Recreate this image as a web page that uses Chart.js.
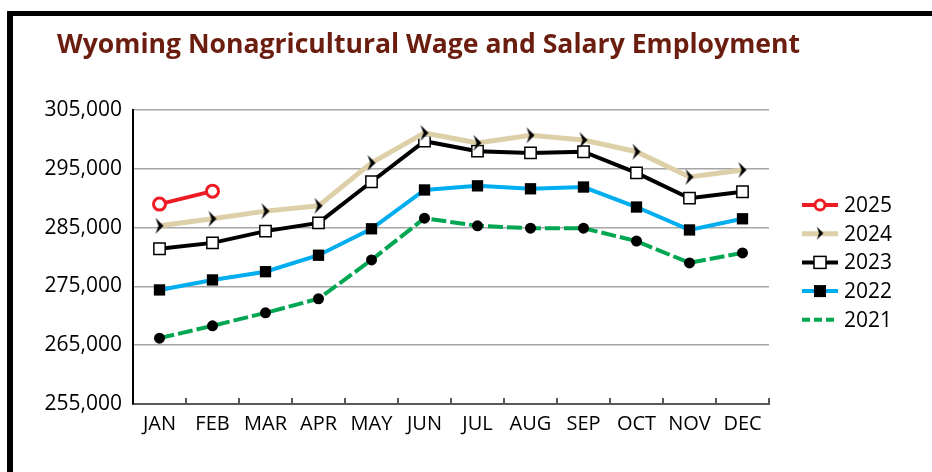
<!DOCTYPE html>
<html lang="en">
<head>
    <meta charset="UTF-8">
    <title>Wyoming Nonagricultural Wage and Salary Employment</title>
    <script src="https://cdn.jsdelivr.net/npm/chart.js"></script>
    <style>
        html, body { margin: 0; padding: 0; background: #ffffff; }
        .wrap { position: relative; width: 932px; height: 472px; }
    </style>
</head>
<body>
    <div class="wrap">
        <canvas id="employmentChart" width="932" height="472"></canvas>
    </div>
    <script>
        // data
        const months = ['JAN', 'FEB', 'MAR', 'APR', 'MAY', 'JUN', 'JUL', 'AUG', 'SEP', 'OCT', 'NOV', 'DEC'];
        const yTicks = [255000, 265000, 275000, 285000, 295000, 305000];
        const emp2025 = [289000, 291200];
        const emp2024 = [285300, 286500, 287800, 288700, 296000, 301100, 299400, 300700, 299900, 297900, 293600, 294800];
        const emp2023 = [281400, 282400, 284400, 285800, 292800, 299700, 298000, 297700, 297900, 294300, 290000, 291100];
        const emp2022 = [274400, 276100, 277500, 280300, 284800, 291400, 292100, 291600, 291900, 288500, 284600, 286500];
        const emp2021 = [266200, 268300, 270500, 272900, 279500, 286600, 285300, 284900, 284900, 282700, 279000, 280700];

        const FONT = '"Open Sans", Lato, sans-serif';
        const TITLE = 'Wyoming Nonagricultural Wage and Salary Employment';

        // chevron marker for 2024
        function makeChevron() {
            const c = document.createElement('canvas');
            c.width = 12; c.height = 18;
            const g = c.getContext('2d');
            g.fillStyle = '#000';
            g.beginPath();
            g.moveTo(2, 1);
            g.lineTo(10, 9);
            g.lineTo(2, 17);
            g.lineTo(5, 9);
            g.closePath();
            g.fill();
            return c;
        }
        const chevron = makeChevron();

        // white page + black frame + title
        const framePlugin = {
            id: 'frame',
            beforeDraw(chart) {
                const ctx = chart.ctx;
                ctx.save();
                ctx.fillStyle = '#ffffff';
                ctx.fillRect(0, 0, chart.width, chart.height);
                ctx.fillStyle = '#000000';
                ctx.fillRect(7, 11, 6, chart.height - 11);
                ctx.fillRect(7, 11, chart.width - 7, 5);
                ctx.fillStyle = '#6b1e10';
                ctx.font = 'bold 26px ' + FONT;
                ctx.textBaseline = 'alphabetic';
                // fit the title to the width it has in the original
                const w = ctx.measureText(TITLE).width;
                ctx.translate(57, 53);
                ctx.scale(743 / w, 1);
                ctx.fillText(TITLE, 0, 0);
                ctx.restore();
            },
            afterDatasetsDraw(chart) {
                // small upward tick marks on the category axis
                const ctx = chart.ctx;
                const x = chart.scales.x;
                const bottom = chart.chartArea.bottom;
                ctx.save();
                ctx.strokeStyle = '#595959';
                ctx.lineWidth = 2;
                for (let i = 0; i < months.length; i++) {
                    const px = Math.round((x.getPixelForValue(i) + x.getPixelForValue(i + 1)) / 2);
                    ctx.beginPath();
                    ctx.moveTo(px, bottom);
                    ctx.lineTo(px, bottom - 6);
                    ctx.stroke();
                }
                ctx.restore();
            }
        };

        // legend drawn on the right
        const legendPlugin = {
            id: 'sideLegend',
            afterDraw(chart) {
                const ctx = chart.ctx;
                const x0 = 802, x1 = 838, tx = 844;
                let y = 205;
                ctx.save();
                chart.data.datasets.forEach(ds => {
                    ctx.strokeStyle = ds.borderColor;
                    ctx.lineWidth = ds.borderWidth;
                    ctx.setLineDash(ds.borderDash ? [8, 4] : []);
                    ctx.beginPath();
                    ctx.moveTo(x0, y);
                    ctx.lineTo(x1, y);
                    ctx.stroke();
                    ctx.setLineDash([]);
                    const mx = (x0 + x1) / 2;
                    if (ds.label === '2025') {
                        ctx.fillStyle = '#fff';
                        ctx.lineWidth = 3;
                        ctx.beginPath();
                        ctx.arc(mx, y, 5, 0, Math.PI * 2);
                        ctx.fill();
                        ctx.stroke();
                    } else if (ds.label === '2024') {
                        ctx.drawImage(chevron, mx - 5, y - 8, 10, 15);
                    } else if (ds.label === '2023') {
                        ctx.fillStyle = '#fff';
                        ctx.strokeStyle = '#000';
                        ctx.lineWidth = 1.5;
                        ctx.fillRect(mx - 6, y - 6, 12, 12);
                        ctx.strokeRect(mx - 6, y - 6, 12, 12);
                    } else if (ds.label === '2022') {
                        ctx.fillStyle = '#000';
                        ctx.fillRect(mx - 6, y - 6, 12, 12);
                    }
                    ctx.fillStyle = '#000';
                    ctx.font = '21px ' + FONT;
                    ctx.textBaseline = 'middle';
                    ctx.fillText(ds.label, tx, y + 1);
                    y += 28.7;
                });
                ctx.restore();
            }
        };

        const ctx = document.getElementById('employmentChart').getContext('2d');
        new Chart(ctx, {
            type: 'line',
            data: {
                labels: months,
                datasets: [
                    {
                        label: '2025', data: emp2025,
                        borderColor: '#ed1c24', borderWidth: 4,
                        pointStyle: 'circle', pointRadius: 6, pointBorderWidth: 3,
                        pointBackgroundColor: '#ffffff', pointBorderColor: '#ed1c24'
                    },
                    {
                        label: '2024', data: emp2024,
                        borderColor: '#ddd0a9', borderWidth: 5,
                        pointStyle: chevron, pointRadius: 8
                    },
                    {
                        label: '2023', data: emp2023,
                        borderColor: '#000000', borderWidth: 4,
                        pointStyle: 'rect', pointRadius: 8, pointBorderWidth: 1.5,
                        pointBackgroundColor: '#ffffff', pointBorderColor: '#000000'
                    },
                    {
                        label: '2022', data: emp2022,
                        borderColor: '#00aeef', borderWidth: 4,
                        pointStyle: 'rect', pointRadius: 8, pointBorderWidth: 0,
                        pointBackgroundColor: '#000000', pointBorderColor: '#000000'
                    },
                    {
                        label: '2021', data: emp2021,
                        borderColor: '#00a651', borderWidth: 4, borderDash: [15, 4],
                        pointStyle: 'circle', pointRadius: 5.5, pointBorderWidth: 0,
                        pointBackgroundColor: '#000000', pointBorderColor: '#000000'
                    }
                ]
            },
            options: {
                responsive: false,
                animation: false,
                devicePixelRatio: 1,
                layout: { padding: { left: 0, right: 163, top: 110, bottom: 0 } },
                plugins: {
                    legend: { display: false },
                    title: { display: false },
                    tooltip: { enabled: false }
                },
                scales: {
                    x: {
                        offset: true,
                        grid: { display: false, drawTicks: false },
                        border: { display: true, color: '#595959', width: 2 },
                        ticks: {
                            color: '#000', padding: 8,
                            font: { family: FONT, size: 20 },
                            maxRotation: 0, autoSkip: false
                        },
                        afterFit(scale) { scale.height = 68; }
                    },
                    y: {
                        min: yTicks[0],
                        max: yTicks[yTicks.length - 1],
                        afterBuildTicks(scale) { scale.ticks = yTicks.map(v => ({ value: v })); },
                        grid: { color: '#a6a6a6', lineWidth: 1.5, drawTicks: false },
                        border: { display: true, color: '#000000', width: 2 },
                        ticks: {
                            color: '#000', padding: 11,
                            font: { family: FONT, size: 21 },
                            callback: v => v.toLocaleString('en-US')
                        },
                        afterFit(scale) { scale.width = 133; }
                    }
                }
            },
            plugins: [framePlugin, legendPlugin]
        });
    </script>
</body>
</html>
